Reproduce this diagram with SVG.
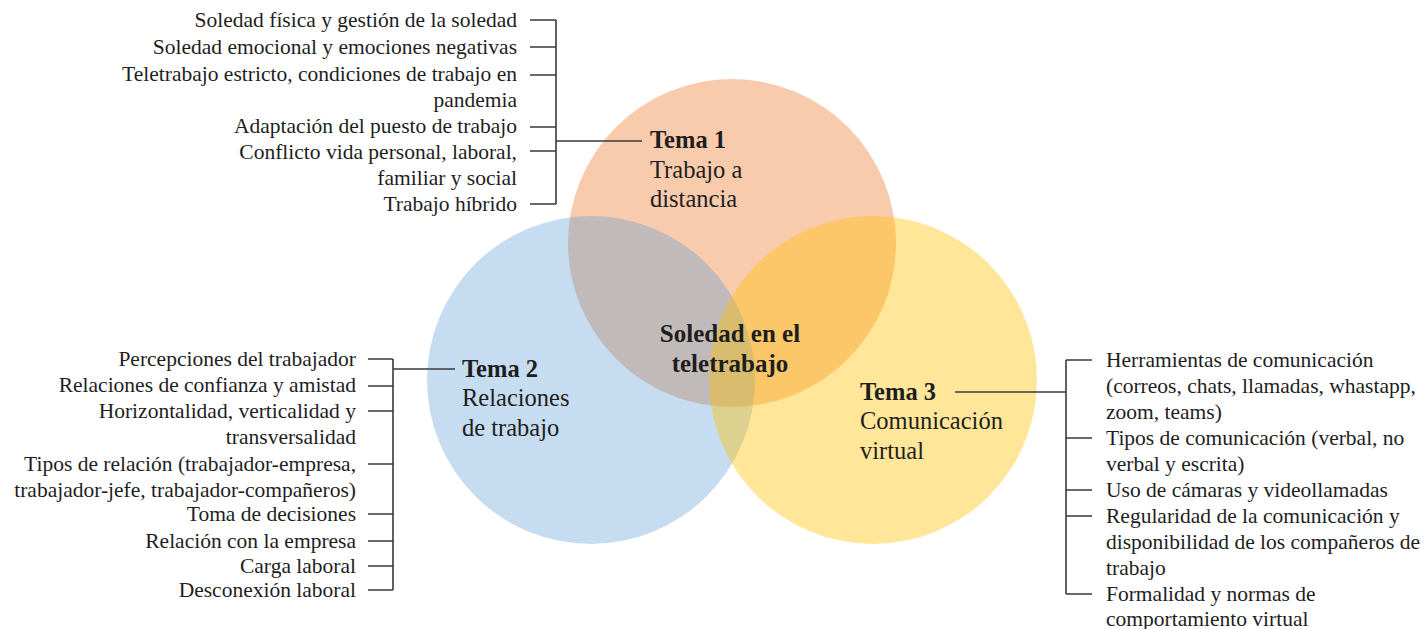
<svg xmlns="http://www.w3.org/2000/svg" width="1424" height="629" viewBox="0 0 1424 629">
<style>
.t{font-family:"Liberation Serif","Times New Roman",serif;font-size:21.5px;fill:#1e1e1e}
.r{text-anchor:end}
.h{font-family:"Liberation Serif","Times New Roman",serif;font-size:24.5px;fill:#1e1e1e}
.b{font-weight:bold}
.c{font-family:"Liberation Serif","Times New Roman",serif;font-size:25px;font-weight:bold;fill:#1e1e1e;text-anchor:middle}
.ln{stroke:#3a3a3a;stroke-width:1.6;fill:none}
</style>
<rect width="1424" height="629" fill="#ffffff"/>
<g id="circles">
<circle id="circle-tema1" cx="732" cy="243" r="164" fill="#ED7D31" fill-opacity="0.4"/>
<circle id="circle-tema2" cx="591" cy="380" r="164" fill="#5B9BD5" fill-opacity="0.35"/>
<circle id="circle-tema3" cx="873" cy="380" r="164" fill="#FFC000" fill-opacity="0.4"/>
</g>
<g id="connectors" class="ln">
<path d="M556 20V204M530 20H556M530 47H556M530 75H556M530 127H556M530 151H556M530 204H556M556 141H642"/>
<path d="M393 359V590M368 359H393M368 386H393M368 411H393M368 464H393M368 514H393M368 541H393M368 566H393M368 590H393M393 369H455"/>
<path d="M1066 360V594M1066 360H1092M1066 438H1092M1066 490H1092M1066 516H1092M1066 594H1092M955 392H1066"/>
</g>
<g id="center">
<text class="c" x="730" y="342">Soledad en el</text>
<text class="c" x="730" y="372">teletrabajo</text>
</g>
<g id="tema1">
<text class="h b" x="650" y="148">Tema 1</text>
<text class="h" x="650" y="178">Trabajo a</text>
<text class="h" x="650" y="207">distancia</text>
</g>
<g id="tema2">
<text class="h b" x="462" y="377">Tema 2</text>
<text class="h" x="462" y="406">Relaciones</text>
<text class="h" x="462" y="436">de trabajo</text>
</g>
<g id="tema3">
<text class="h b" x="860" y="400">Tema 3</text>
<text class="h" x="860" y="429">Comunicación</text>
<text class="h" x="860" y="459">virtual</text>
</g>
<g id="list1" class="t r">
<text class="t r" x="517" y="27">Soledad física y gestión de la soledad</text>
<text class="t r" x="517" y="54">Soledad emocional y emociones negativas</text>
<text class="t r" x="517" y="81">Teletrabajo estricto, condiciones de trabajo en</text>
<text class="t r" x="517" y="107">pandemia</text>
<text class="t r" x="517" y="133">Adaptación del puesto de trabajo</text>
<text class="t r" x="517" y="159">Conflicto vida personal, laboral,</text>
<text class="t r" x="517" y="185">familiar y social</text>
<text class="t r" x="517" y="211">Trabajo híbrido</text>
</g>
<g id="list2">
<text class="t r" x="356" y="366">Percepciones del trabajador</text>
<text class="t r" x="356" y="392">Relaciones de confianza y amistad</text>
<text class="t r" x="356" y="418">Horizontalidad, verticalidad y</text>
<text class="t r" x="356" y="444">transversalidad</text>
<text class="t r" x="356" y="471">Tipos de relación (trabajador-empresa,</text>
<text class="t r" x="356" y="497">trabajador-jefe, trabajador-compañeros)</text>
<text class="t r" x="356" y="521">Toma de decisiones</text>
<text class="t r" x="356" y="548">Relación con la empresa</text>
<text class="t r" x="356" y="573">Carga laboral</text>
<text class="t r" x="356" y="597">Desconexión laboral</text>
</g>
<g id="list3">
<text class="t" x="1106" y="367">Herramientas de comunicación</text>
<text class="t" x="1106" y="393">(correos, chats, llamadas, whastapp,</text>
<text class="t" x="1106" y="419">zoom, teams)</text>
<text class="t" x="1106" y="445">Tipos de comunicación (verbal, no</text>
<text class="t" x="1106" y="471">verbal y escrita)</text>
<text class="t" x="1106" y="497">Uso de cámaras y videollamadas</text>
<text class="t" x="1106" y="523">Regularidad de la comunicación y</text>
<text class="t" x="1106" y="549">disponibilidad de los compañeros de</text>
<text class="t" x="1106" y="575">trabajo</text>
<text class="t" x="1106" y="601">Formalidad y normas de</text>
<text class="t" x="1106" y="626">comportamiento virtual</text>
</g>
</svg>
